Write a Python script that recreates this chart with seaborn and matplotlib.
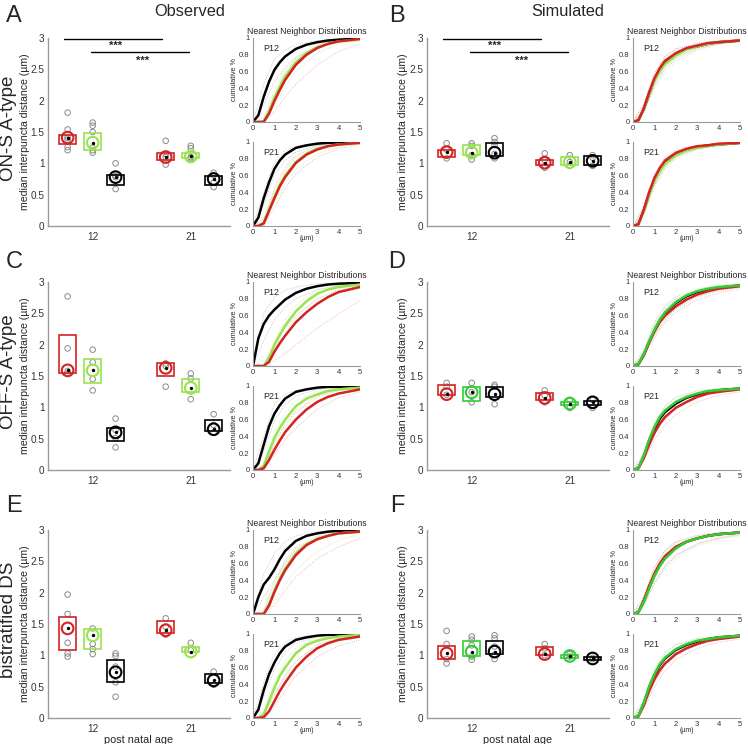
import numpy as np
import pandas as pd
import matplotlib
matplotlib.use("Agg")
import matplotlib.pyplot as plt
import seaborn as sns

# ---- data -------------------------------------------------------------
# group order: P12 red, P12 green, P12 black, P21 red, P21 green, P21 black
AGES = [12, 21]

A_LO = [1.31, 1.22, 0.66, 1.06, 1.08, 0.65]
A_HI = [1.46, 1.48, 0.82, 1.16, 1.17, 0.80]
A_MID = [1.41, 1.33, 0.78, 1.10, 1.11, 0.75]
A_PTS = [[1.81, 1.54, 1.41, 1.38, 1.26, 1.21], [1.65, 1.60, 1.50, 1.25, 1.21, 1.17],
         [1.00, 0.80, 0.78, 0.59], [1.36, 1.15, 1.10, 0.98],
         [1.28, 1.24, 1.10, 1.08], [0.85, 0.81, 0.69, 0.62]]

B_LO = [1.10, 1.13, 1.12, 0.98, 0.98, 0.97]
B_HI = [1.21, 1.29, 1.32, 1.06, 1.10, 1.12]
B_MID = [1.18, 1.17, 1.17, 1.01, 1.02, 1.04]
B_PTS = [[1.32, 1.22, 1.08], [1.32, 1.28, 1.13, 1.06],
         [1.40, 1.34, 1.29, 1.15, 1.08], [1.16, 1.05, 0.96, 0.93],
         [1.13, 1.02, 0.96], [1.13, 1.09, 0.96]]

C_LO = [1.54, 1.39, 0.47, 1.50, 1.25, 0.63]
C_HI = [2.15, 1.77, 0.67, 1.70, 1.45, 0.79]
C_MID = [1.59, 1.59, 0.60, 1.63, 1.31, 0.65]
C_PTS = [[2.77, 1.94, 1.58, 1.54], [1.92, 1.72, 1.45, 1.27],
         [0.82, 0.64, 0.51, 0.36], [1.70, 1.66, 1.33],
         [1.54, 1.46, 1.13], [0.89, 0.72, 0.60]]

D_LO = [1.20, 1.10, 1.16, 1.12, 1.03, 1.04]
D_HI = [1.35, 1.32, 1.32, 1.23, 1.09, 1.10]
D_MID = [1.21, 1.24, 1.21, 1.15, 1.06, 1.08]
D_PTS = [[1.39, 1.33, 1.20], [1.39, 1.24, 1.08],
         [1.36, 1.33, 1.05], [1.27, 1.19, 1.08],
         [1.12, 0.99], [1.12, 0.99]]

E_LO = [1.08, 1.10, 0.57, 1.35, 1.05, 0.56]
E_HI = [1.61, 1.42, 0.92, 1.55, 1.14, 0.70]
E_MID = [1.43, 1.32, 0.73, 1.40, 1.06, 0.60]
E_PTS = [[1.97, 1.66, 1.20, 1.03, 0.98], [1.43, 1.18, 1.10, 1.02],
         [1.03, 0.99, 0.82, 0.57, 0.34], [1.59, 1.46, 1.33],
         [1.20, 1.08], [0.74, 0.53]]

F_LO = [0.94, 0.99, 1.02, 1.01, 0.96, 0.93]
F_HI = [1.15, 1.23, 1.23, 1.13, 1.00, 0.97]
F_MID = [1.03, 1.06, 1.06, 1.02, 0.99, 0.95]
F_PTS = [[1.39, 1.18, 0.94, 0.87], [1.30, 1.25, 1.16, 0.98, 0.93],
         [1.32, 1.27, 1.14, 1.01, 0.94], [1.18, 1.11, 1.00],
         [1.02, 0.98], [0.96, 0.94]]

# nearest neighbour CDFs (thick = pooled)
NN_X = [0, 0.25, 0.5, 0.75, 1, 1.25, 1.5, 2, 2.5, 3, 3.5, 4, 5]
A_P12_RED = [0, 0, 0, .10, .25, .38, .50, .68, .80, .88, .93, .96, .99]
A_P12_GREEN = [0, 0, .01, .13, .29, .42, .54, .71, .82, .89, .93, .96, .98]
A_P12_BLACK = [0, .08, .30, .48, .62, .71, .78, .87, .92, .95, .97, .98, .995]
A_P21_RED = [0, 0, .03, .18, .33, .47, .58, .75, .85, .91, .95, .97, .99]
A_P21_GREEN = [0, 0, .04, .20, .35, .49, .60, .76, .86, .92, .95, .97, .99]
A_P21_BLACK = [0, .10, .33, .52, .68, .78, .85, .93, .96, .98, .99, .995, 1]
B_P12_RED = [0, .02, .16, .35, .52, .64, .73, .82, .88, .91, .94, .95, .97]
B_P12_GREEN = [0, .02, .15, .33, .49, .60, .69, .79, .86, .90, .93, .95, .97]
B_P12_BLACK = [0, .02, .15, .33, .50, .62, .71, .81, .87, .90, .93, .95, .97]
B_P21_RED = [0, .02, .19, .40, .57, .69, .78, .87, .92, .95, .96, .98, .99]
B_P21_GREEN = [0, .02, .17, .37, .53, .65, .74, .84, .90, .93, .95, .97, .99]
B_P21_BLACK = [0, .02, .18, .38, .55, .67, .76, .86, .91, .94, .96, .97, .99]
C_P12_RED = [0, 0, 0, .05, .17, .27, .36, .52, .64, .74, .82, .88, .94]
C_P12_GREEN = [0, 0, 0, .10, .25, .37, .48, .65, .77, .86, .91, .94, .97]
C_P12_BLACK = [0, .33, .50, .60, .67, .73, .79, .87, .92, .95, .97, .98, .99]
C_P21_RED = [0, 0, .02, .12, .24, .35, .45, .60, .72, .81, .87, .91, .96]
C_P21_GREEN = [0, 0, .05, .22, .38, .50, .60, .76, .85, .90, .94, .96, .98]
C_P21_BLACK = [0, .08, .30, .52, .67, .77, .85, .93, .96, .98, .99, .99, 1]
D_P12_RED = [0, .02, .13, .28, .41, .52, .60, .71, .79, .85, .89, .92, .95]
D_P12_GREEN = [0, .02, .14, .29, .43, .55, .64, .76, .84, .89, .92, .94, .96]
D_P12_BLACK = [0, .02, .13, .28, .42, .54, .63, .75, .83, .88, .91, .93, .96]
D_P21_RED = [0, .02, .14, .30, .44, .55, .63, .74, .81, .87, .91, .93, .96]
D_P21_GREEN = [0, .02, .17, .36, .51, .63, .71, .81, .87, .91, .94, .95, .97]
D_P21_BLACK = [0, .02, .16, .34, .49, .61, .69, .79, .86, .90, .93, .95, .97]
E_P12_RED = [0, 0, 0, .10, .26, .40, .52, .70, .82, .89, .93, .96, .98]
E_P12_GREEN = [0, 0, 0, .12, .28, .42, .54, .72, .83, .89, .93, .96, .98]
E_P12_BLACK = [0, .20, .35, .43, .53, .65, .75, .87, .93, .96, .98, .99, 1]
E_P21_RED = [0, 0, .01, .08, .20, .32, .42, .60, .73, .83, .89, .93, .97]
E_P21_GREEN = [0, 0, .04, .20, .36, .50, .60, .77, .87, .92, .95, .97, .99]
E_P21_BLACK = [0, .10, .33, .52, .66, .77, .85, .93, .96, .98, .99, .99, 1]
F_P12_RED = [0, .02, .16, .33, .48, .60, .69, .80, .86, .90, .93, .95, .97]
F_P12_GREEN = [0, .02, .14, .30, .45, .57, .66, .78, .86, .90, .93, .95, .97]
F_P12_BLACK = [0, .02, .15, .31, .46, .58, .67, .79, .86, .90, .93, .95, .97]
F_P21_RED = [0, .02, .15, .32, .46, .57, .65, .76, .83, .88, .92, .94, .97]
F_P21_GREEN = [0, .02, .18, .37, .52, .64, .72, .82, .88, .92, .94, .96, .98]
F_P21_BLACK = [0, .02, .17, .36, .51, .63, .71, .81, .87, .91, .94, .96, .98]

# individual retinas (thin dotted): grey, grey, red, red, green, green
THIN_X = [0, 0.5, 1, 1.5, 2, 3, 4, 5]
A_P12_THIN = [[0, .45, .75, .86, .92, .97, .99, 1], [0, .20, .48, .65, .77, .90, .96, .99],
              [0, 0, .12, .30, .45, .68, .84, .93], [0, .02, .32, .58, .75, .91, .97, .99],
              [0, 0, .20, .42, .60, .82, .93, .97], [0, .05, .38, .62, .78, .93, .97, .99]]
A_P21_THIN = [[0, .40, .76, .90, .95, .99, 1, 1], [0, .25, .60, .78, .88, .96, .99, 1],
              [0, 0, .22, .45, .62, .82, .92, .97], [0, .08, .45, .70, .84, .95, .98, .99],
              [0, .02, .28, .50, .68, .86, .94, .98], [0, .06, .42, .66, .82, .94, .98, .99]]
B_P12_THIN = [[0, .22, .58, .78, .87, .94, .97, .98], [0, .12, .42, .63, .75, .87, .93, .96],
              [0, .20, .58, .78, .87, .93, .96, .98], [0, .13, .45, .66, .77, .88, .93, .96],
              [0, .18, .55, .75, .85, .92, .96, .98], [0, .10, .40, .60, .72, .85, .92, .95]]
B_P21_THIN = [[0, .24, .62, .82, .90, .96, .98, .99], [0, .14, .48, .70, .82, .92, .96, .98],
              [0, .22, .60, .80, .89, .95, .98, .99], [0, .15, .50, .72, .83, .92, .96, .98],
              [0, .20, .58, .78, .88, .95, .97, .99], [0, .13, .46, .68, .80, .91, .95, .98]]
C_P12_THIN = [[0, .62, .82, .90, .94, .98, .99, 1], [0, .30, .55, .70, .80, .91, .96, .98],
              [0, 0, .06, .15, .25, .45, .62, .78], [0, 0, .25, .45, .60, .80, .90, .95],
              [0, 0, .20, .40, .58, .80, .91, .96], [0, 0, .30, .55, .72, .90, .96, .98]]
C_P21_THIN = [[0, .40, .78, .90, .95, .99, 1, 1], [0, .22, .58, .78, .88, .96, .99, 1],
              [0, 0, .18, .36, .50, .72, .86, .93], [0, .04, .32, .55, .70, .88, .95, .98],
              [0, .02, .30, .52, .68, .86, .94, .98], [0, .06, .45, .68, .82, .94, .98, .99]]
D_P12_THIN = [[0, .18, .52, .72, .82, .92, .96, .98], [0, .10, .36, .55, .68, .82, .90, .94],
              [0, .16, .48, .68, .79, .90, .94, .97], [0, .10, .34, .52, .64, .79, .87, .92],
              [0, .17, .50, .70, .80, .91, .95, .97], [0, .11, .37, .56, .69, .83, .90, .94]]
D_P21_THIN = [[0, .20, .56, .76, .86, .94, .97, .98], [0, .12, .42, .62, .74, .87, .93, .96],
              [0, .18, .50, .70, .80, .91, .95, .97], [0, .10, .36, .54, .66, .81, .89, .93],
              [0, .20, .57, .77, .87, .94, .97, .98], [0, .13, .44, .64, .76, .88, .93, .96]]
E_P12_THIN = [[0, .48, .72, .86, .93, .98, .99, 1], [0, .20, .40, .60, .76, .91, .97, .99],
              [0, 0, .10, .28, .44, .66, .80, .90], [0, .03, .36, .62, .78, .92, .97, .99],
              [0, 0, .15, .35, .52, .75, .88, .95], [0, .05, .40, .65, .80, .93, .97, .99]]
E_P21_THIN = [[0, .42, .76, .90, .96, .99, 1, 1], [0, .25, .58, .78, .89, .97, .99, 1],
              [0, 0, .14, .33, .50, .73, .86, .93], [0, .04, .28, .50, .67, .87, .95, .98],
              [0, .02, .28, .50, .68, .87, .95, .98], [0, .06, .44, .68, .83, .95, .98, .99]]
F_P12_THIN = [[0, .20, .56, .76, .86, .94, .97, .98], [0, .10, .36, .56, .69, .83, .90, .94],
              [0, .20, .55, .75, .85, .93, .96, .98], [0, .10, .38, .58, .70, .84, .91, .95],
              [0, .18, .52, .72, .83, .92, .96, .98], [0, .09, .34, .53, .66, .81, .89, .93]]
F_P21_THIN = [[0, .22, .58, .78, .87, .94, .97, .98], [0, .12, .42, .62, .75, .87, .93, .96],
              [0, .18, .52, .72, .82, .92, .96, .98], [0, .10, .37, .56, .69, .83, .90, .94],
              [0, .21, .58, .78, .88, .95, .97, .98], [0, .13, .44, .64, .77, .89, .94, .97]]

ROW_LABELS = ["ON-S A-type", "OFF-S A-type", "bistratified DS"]

# ---- style -----------------------------------------------------------
sns.set_style("white")
plt.rcParams['font.family'] = ['Liberation Sans', 'DejaVu Sans']

RED = '#d42323'
LIGHT_GREEN = '#98e34e'
BRIGHT_GREEN = '#33cc33'
THIN_COLS = ['#bdbdbd', '#bdbdbd', '#f2a3a3', '#f2a3a3', '#bfeea0', '#bfeea0']
SPINE = '#9a9a9a'
TXT = '#333333'
OFFSETS = [-2.3, 0.0, 2.1]

W, H = 748, 744
fig = plt.figure(figsize=(W / 100, H / 100), dpi=100)


def rect(l, t, r, b):
    return [l / W, 1 - b / H, (r - l) / W, (b - t) / H]


def draw_box(ax, lo, hi, mid, pts, green, sig, label_x):
    cols = [RED, green, 'black'] * 2
    xs = [a + o for a in AGES for o in OFFSETS]
    ptdf = pd.DataFrame({'x': np.repeat(xs, [len(p) for p in pts]),
                         'y': np.concatenate(pts)})
    sns.scatterplot(data=ptdf, x='x', y='y', ax=ax, s=16, facecolors='none',
                    edgecolor='#8a8a8a', linewidth=0.7, zorder=2, legend=False)
    ax.bar(xs, np.array(hi) - np.array(lo), bottom=lo, width=1.6, fill=False,
           edgecolor=cols, linewidth=1.2, zorder=3)
    for x, m, c in zip(xs, mid, cols):
        sns.scatterplot(x=[x], y=[m], ax=ax, s=70, facecolors='none', edgecolor=c,
                        linewidth=1.5, zorder=4, legend=False)
    sns.scatterplot(x=xs, y=mid, ax=ax, s=6, color='black', linewidth=0,
                    zorder=5, legend=False)
    if sig:
        ax.plot([9.4, 18.4], [2.99, 2.99], color='black', lw=1, clip_on=False)
        ax.plot([11.8, 20.8], [2.78, 2.78], color='black', lw=1, clip_on=False)
        ax.text(14.1, 2.87, '***', ha='center', va='center', fontsize=8, weight='bold')
        ax.text(16.6, 2.64, '***', ha='center', va='center', fontsize=8, weight='bold')
    ax.set_xlim(7.9, 24.6)
    ax.set_ylim(0, 3)
    ax.set_xticks(AGES)
    ax.set_xticklabels(['12', '21'])
    ax.set_yticks([0, 0.5, 1, 1.5, 2, 2.5, 3])
    ax.set_yticklabels(['0', '0.5', '1', '1.5', '2', '2.5', '3'])
    ax.tick_params(length=0, labelsize=7.2, colors=TXT, pad=2.5)
    ax.tick_params(axis='x', pad=4)
    ax.set_xlabel('')
    ax.set_ylabel('median interpuncta distance (µm)', fontsize=7.6)
    ax.yaxis.set_label_coords(label_x, 0.5)
    sns.despine(ax=ax)
    for s in ['left', 'bottom']:
        ax.spines[s].set_color(SPINE)
        ax.spines[s].set_linewidth(1)


def draw_cdf(ax, curves, cols, thins, tag, top):
    for vals, c in zip(thins, THIN_COLS):
        sns.lineplot(x=THIN_X, y=vals, ax=ax, color=c, lw=0.6, linestyle=':',
                     estimator=None)
    for vals, c in zip(curves, cols):
        sns.lineplot(x=NN_X, y=vals, ax=ax, color=c, lw=1.8, estimator=None)
    ax.set_xlim(0, 5)
    ax.set_ylim(0, 1)
    ax.set_xticks([0, 1, 2, 3, 4, 5])
    ax.set_yticks([0, 0.2, 0.4, 0.6, 0.8, 1])
    ax.set_yticklabels(['0', '0.2', '0.4', '0.6', '0.8', '1'])
    ax.tick_params(length=1.5, labelsize=5.5, colors=TXT, pad=1)
    ax.set_ylabel('cumulative %', fontsize=5.2)
    ax.yaxis.set_label_coords(-0.137, 0.5)
    ax.text(0.1, 0.93, tag, transform=ax.transAxes, fontsize=6.5, va='top')
    if top:
        ax.set_title('Nearest Neighbor Distributions', fontsize=6.3, pad=3)
        ax.set_xlabel('')
    else:
        ax.set_xlabel('(µm)', fontsize=5, labelpad=-1)
    sns.despine(ax=ax)
    for s in ['left', 'bottom']:
        ax.spines[s].set_color(SPINE)


panels = {
    'A': (A_LO, A_HI, A_MID, A_PTS, [A_P12_BLACK, A_P12_GREEN, A_P12_RED],
          [A_P21_BLACK, A_P21_GREEN, A_P21_RED], A_P12_THIN, A_P21_THIN),
    'B': (B_LO, B_HI, B_MID, B_PTS, [B_P12_BLACK, B_P12_GREEN, B_P12_RED],
          [B_P21_BLACK, B_P21_GREEN, B_P21_RED], B_P12_THIN, B_P21_THIN),
    'C': (C_LO, C_HI, C_MID, C_PTS, [C_P12_BLACK, C_P12_GREEN, C_P12_RED],
          [C_P21_BLACK, C_P21_GREEN, C_P21_RED], C_P12_THIN, C_P21_THIN),
    'D': (D_LO, D_HI, D_MID, D_PTS, [D_P12_BLACK, D_P12_RED, D_P12_GREEN],
          [D_P21_BLACK, D_P21_RED, D_P21_GREEN], D_P12_THIN, D_P21_THIN),
    'E': (E_LO, E_HI, E_MID, E_PTS, [E_P12_BLACK, E_P12_GREEN, E_P12_RED],
          [E_P21_BLACK, E_P21_GREEN, E_P21_RED], E_P12_THIN, E_P21_THIN),
    'F': (F_LO, F_HI, F_MID, F_PTS, [F_P12_BLACK, F_P12_RED, F_P12_GREEN],
          [F_P21_BLACK, F_P21_RED, F_P21_GREEN], F_P12_THIN, F_P21_THIN),
}
greens = {'A': LIGHT_GREEN, 'B': LIGHT_GREEN, 'C': LIGHT_GREEN,
          'D': BRIGHT_GREEN, 'E': LIGHT_GREEN, 'F': BRIGHT_GREEN}

row_tops = [38, 282, 530]
letter_y = [16, 262, 506]
for i, letters in enumerate([('A', 'B'), ('C', 'D'), ('E', 'F')]):
    T = row_tops[i]
    for j, L in enumerate(letters):
        lo, hi, mid, pts, c12, c21, t12, t21 = panels[L]
        g = greens[L]
        # line drawing order: green on top in simulated panels
        cc = ['black', RED, g] if L in ('D', 'F') else ['black', g, RED]
        bl = 48 if j == 0 else 427
        cl = 253 if j == 0 else 633
        axb = fig.add_axes(rect(bl, T, bl + 182, T + 188))
        draw_box(axb, lo, hi, mid, pts, g, sig=(i == 0),
                 label_x=-0.1 if j == 0 else -0.105)
        if i == 2:
            axb.set_xlabel('post natal age', fontsize=7.8, labelpad=1)
        ax1 = fig.add_axes(rect(cl, T, cl + 107, T + 84))
        ax2 = fig.add_axes(rect(cl, T + 104, cl + 107, T + 188))
        draw_cdf(ax1, c12, cc, t12, 'P12', True)
        draw_cdf(ax2, c21, cc, t21, 'P21', False)
        fig.text((14 if j == 0 else 397) / W, 1 - letter_y[i] / H, L,
                 fontsize=17, ha='center', va='center')
    fig.text(9 / W, 1 - (T + 90) / H, ROW_LABELS[i], rotation=90,
             fontsize=13.5, ha='center', va='center')

fig.text(190 / W, 1 - 11 / H, 'Observed', fontsize=11.8, ha='center', va='center')
fig.text(568 / W, 1 - 11 / H, 'Simulated', fontsize=11.8, ha='center', va='center')

fig.savefig('out.png', dpi=100)
